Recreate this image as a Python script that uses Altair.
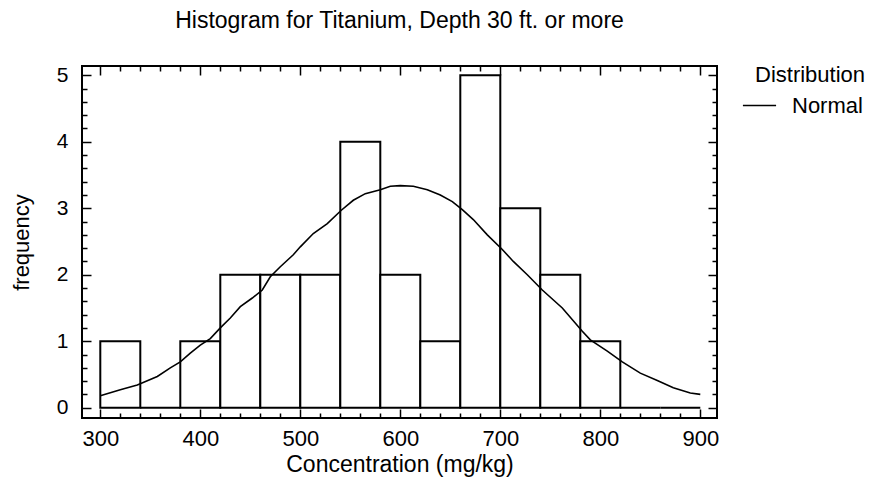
import altair as alt
import pandas as pd

# ---- data ----
bin_start = [300, 340, 380, 420, 460, 500, 540, 580, 620, 660, 700, 740, 780, 820, 860]
bin_end = [340, 380, 420, 460, 500, 540, 580, 620, 660, 700, 740, 780, 820, 860, 900]
counts = [1, 0, 1, 2, 2, 2, 4, 2, 1, 5, 3, 2, 1, 0, 0]

curve_x = [300, 320, 337, 357, 370, 380, 390, 400, 410, 420, 430, 440, 452, 462, 470,
           480, 493, 500, 513, 527, 541, 553, 565, 580, 590, 600, 613, 627, 640, 652,
           662, 673, 687, 702, 713, 727, 742, 762, 782, 790, 807, 822, 840, 857, 873,
           890, 900]
curve_y = [0.18, 0.27, 0.34, 0.47, 0.60, 0.69, 0.82, 0.94, 1.04, 1.20, 1.35, 1.52, 1.65, 1.77, 1.97,
           2.12, 2.30, 2.42, 2.62, 2.77, 2.97, 3.12, 3.22, 3.28, 3.33, 3.34, 3.33, 3.28, 3.20, 3.10,
           2.98, 2.83, 2.60, 2.38, 2.20, 2.00, 1.77, 1.50, 1.15, 1.02, 0.85, 0.69, 0.52, 0.41, 0.30,
           0.22, 0.20]

x_major = [300, 400, 500, 600, 700, 800, 900]
x_minor = [320, 340, 360, 380, 420, 440, 460, 480, 520, 540, 560, 580, 620, 640, 660, 680,
           720, 740, 760, 780, 820, 840, 860, 880]
y_major = [0, 1, 2, 3, 4, 5]
y_minor = [0.2, 0.4, 0.6, 0.8, 1.2, 1.4, 1.6, 1.8, 2.2, 2.4, 2.6, 2.8, 3.2, 3.4, 3.6, 3.8,
           4.2, 4.4, 4.6, 4.8]

title_text = "Histogram for Titanium, Depth 30 ft. or more"
x_title = "Concentration (mg/kg)"
y_title = "frequency"
series_name = "Normal"
legend_title = "Distribution"

FONT = "Liberation Sans"

bars = pd.DataFrame({"start": bin_start, "end": bin_end, "count": counts})
curve = pd.DataFrame({"cx": curve_x, "cy": curve_y, "dist": [series_name] * len(curve_x)})

xs = alt.Scale(domain=[281.7, 916.7], nice=False, zero=False)
ys = alt.Scale(domain=[-0.155, 5.14], nice=False, zero=False)

MAJ = 9
MIN = 5


def tick_axis(orient, values, size):
    return alt.Axis(orient=orient, values=values, tickSize=size, offset=-size,
                    labels=False, domain=False, grid=False, title=None,
                    tickColor="black", tickWidth=1.5)


bar_layer = alt.Chart(bars).mark_rect(fill="white", stroke="black", strokeWidth=2).encode(
    x=alt.X("start:Q", scale=xs,
            axis=alt.Axis(orient="bottom", values=x_major, tickSize=MAJ, offset=-MAJ,
                          labelPadding=10, labelFontSize=22, title=x_title, titlePadding=4,
                          titleFontSize=23, domain=False,
                          grid=False, tickColor="black", tickWidth=1.5, labelFlush=False)),
    x2="end:Q",
    y=alt.Y("count:Q", scale=ys,
            axis=alt.Axis(orient="left", values=y_major, tickSize=MAJ, offset=-MAJ,
                          labelPadding=14, labelFontSize=21, title=y_title, titlePadding=23,
                          titleFontSize=22, domain=False,
                          grid=False, tickColor="black", tickWidth=1.5, labelFlush=False)),
    y2=alt.datum(0),
)

line_layer = alt.Chart(curve).mark_line(strokeWidth=1.6).encode(
    x=alt.X("cx:Q", scale=xs, axis=None),
    y=alt.Y("cy:Q", scale=ys, axis=None),
    color=alt.Color("dist:N", scale=alt.Scale(domain=[series_name], range=["black"]),
                    legend=alt.Legend(title=legend_title, orient="none", legendX=673, legendY=-1,
                                      symbolType="stroke", symbolSize=1100, symbolStrokeWidth=1.6,
                                      symbolOffset=-13, labelOffset=15, titlePadding=1, padding=0)),
)


def x_tick_layer(orient, values, size):
    return alt.Chart(bars).mark_point(opacity=0).encode(
        x=alt.X("start:Q", scale=xs, axis=tick_axis(orient, values, size)),
        y=alt.Y("count:Q", scale=ys, axis=None),
    )


def y_tick_layer(orient, values, size):
    return alt.Chart(bars).mark_point(opacity=0).encode(
        x=alt.X("start:Q", scale=xs, axis=None),
        y=alt.Y("count:Q", scale=ys, axis=tick_axis(orient, values, size)),
    )


chart = alt.layer(
    bar_layer,
    line_layer,
    x_tick_layer("bottom", x_minor, MIN),
    x_tick_layer("top", x_major, MAJ),
    x_tick_layer("top", x_minor, MIN),
    y_tick_layer("left", y_minor, MIN),
    y_tick_layer("right", y_major, MAJ),
    y_tick_layer("right", y_minor, MIN),
).resolve_axis(
    x="independent", y="independent"
).properties(
    width=635,
    height=352,
    title=alt.Title(text=title_text, fontSize=23, font=FONT, fontWeight="normal",
                    color="black", anchor="middle", frame="group", offset=31),
    padding={"left": 74, "top": 58, "right": 150, "bottom": 60},
    autosize=alt.AutoSizeParams(type="none"),
).configure_view(
    stroke="black", strokeWidth=2
).configure_axis(
    labelFont=FONT, titleFont=FONT, labelFontSize=21, titleFontSize=22,
    labelColor="black", titleColor="black", titleFontWeight="normal"
).configure_legend(
    labelFont=FONT, titleFont=FONT, labelFontSize=22, titleFontSize=22,
    labelColor="black", titleColor="black", titleFontWeight="normal"
)

chart.save("out.html", embed_options={"renderer": "svg", "actions": False})
